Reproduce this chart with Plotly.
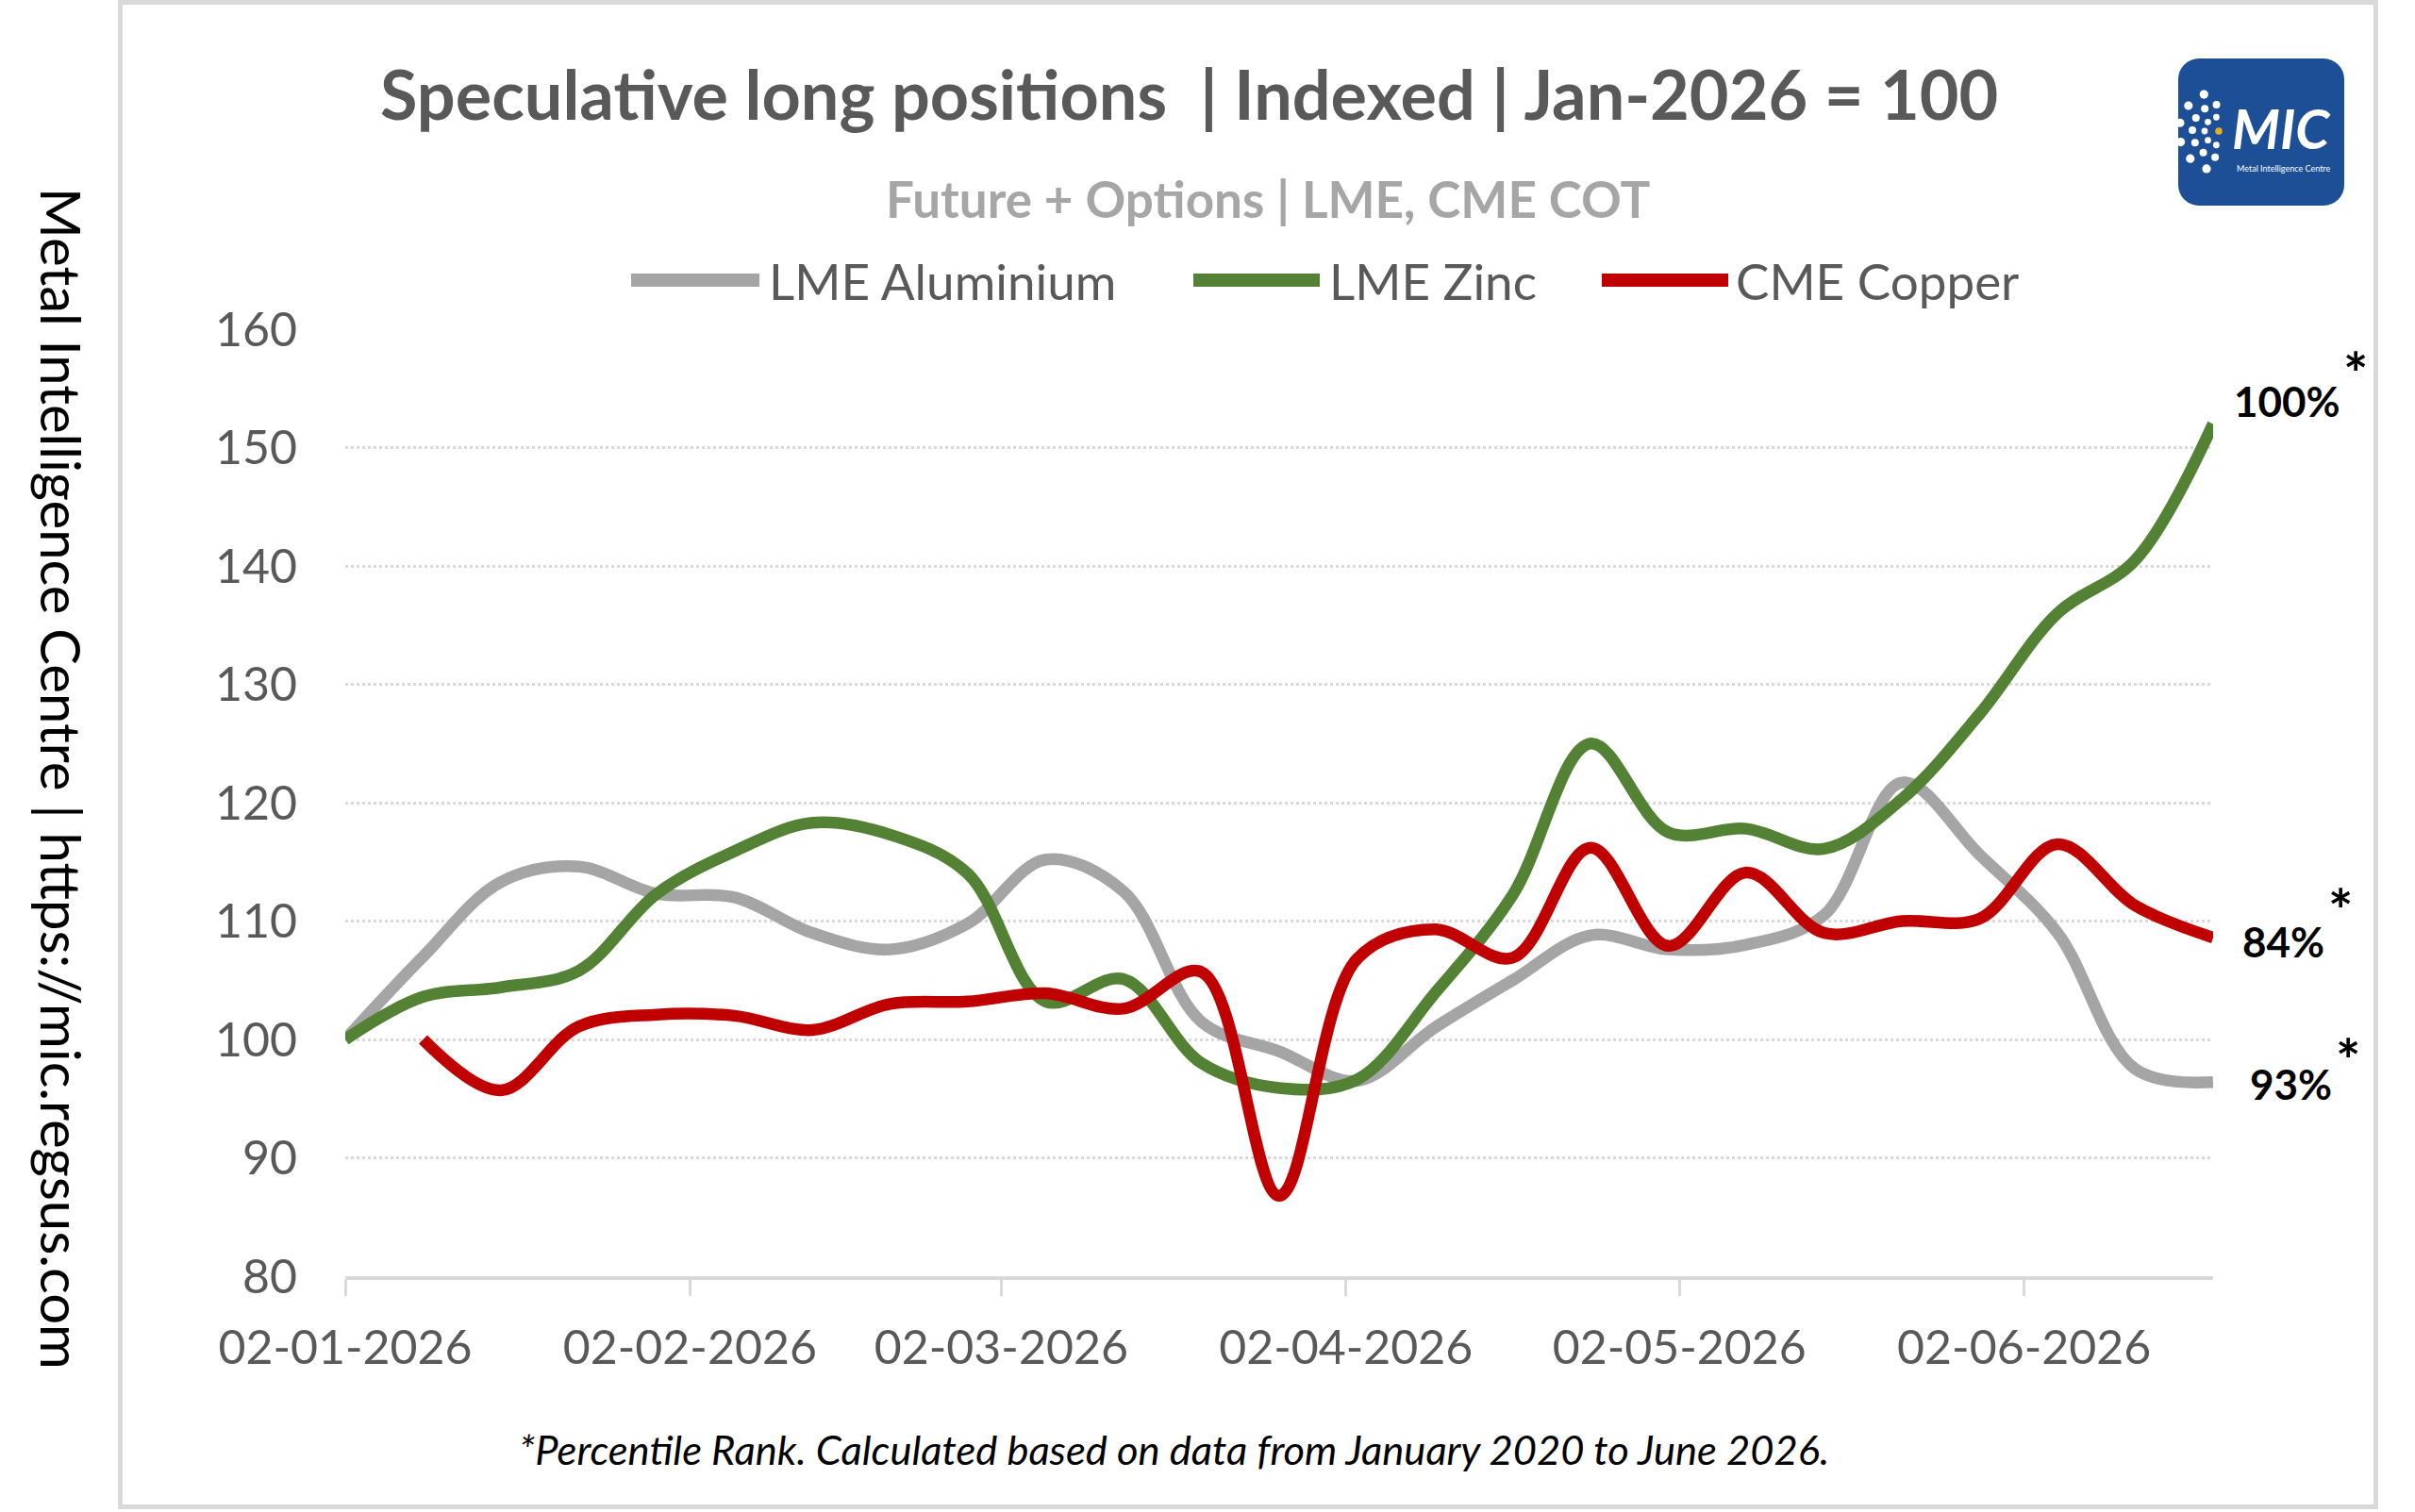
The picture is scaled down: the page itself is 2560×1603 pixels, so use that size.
import math
import plotly.graph_objects as go

# ---------------- data ----------------
dates = ["2026-01-02", "2026-01-09", "2026-01-16", "2026-01-23", "2026-01-30",
         "2026-02-06", "2026-02-13", "2026-02-20", "2026-02-27", "2026-03-06",
         "2026-03-13", "2026-03-20", "2026-03-27", "2026-04-03", "2026-04-10",
         "2026-04-17", "2026-04-24", "2026-05-01", "2026-05-08", "2026-05-15",
         "2026-05-22", "2026-05-29", "2026-06-05", "2026-06-12", "2026-06-19"]

lme_aluminium = [100, 107, 113.3, 114.6, 112.3, 112, 109, 107.6, 109.8, 115.2,
                 112.5, 101.5, 99, 96.5, 101, 105, 108.8, 107.6, 108, 110.5,
                 121.7, 115.6, 109, 97.5, 96.4]

lme_zinc = [100, 103.6, 104.4, 105.8, 112.3, 115.9, 118.3, 117.3, 114, 103.2,
            105.1, 98, 95.9, 96.6, 103.9, 112.2, 125, 117.5, 117.8, 116.1,
            120.3, 127.5, 136, 140.5, 152]

cme_copper = [None, 100, 95.7, 101.1, 102.1, 102, 100.8, 103, 103.2, 103.9,
              102.6, 105.7, 86.8, 106.8, 109.3, 106.9, 116.2, 107.9, 114.1, 109,
              110, 110.2, 116.5, 111.3, 108.6]

series_names = ["LME Aluminium", "LME Zinc", "CME Copper"]
series_colors = ["#A5A5A5", "#548235", "#C00000"]
percentile_labels = ["93%", "100%", "84%"]

tick_dates = ["2026-01-02", "2026-02-02", "2026-03-02", "2026-04-02",
              "2026-05-02", "2026-06-02"]
y_ticks = [80, 90, 100, 110, 120, 130, 140, 150, 160]

# ---------------- layout geometry (pixels) ----------------
W, H = 2560, 1603
L, R, T, B = 366, 214, 349, 250
PW, PH = W - L - R, H - T - B


def px(x):
    return (x - L) / PW


def py(y):
    return (H - B - y) / PH


FONT = "Lato, 'Open Sans', sans-serif"
GREY_TXT = "#595959"

fig = go.Figure()
all_series = [lme_aluminium, lme_zinc, cme_copper]
for name, vals, col in zip(series_names, all_series, series_colors):
    fig.add_trace(go.Scatter(
        x=dates, y=vals, name=name, mode="lines",
        line=dict(color=col, width=12.5, shape="spline", smoothing=1.0),
        connectgaps=False, cliponaxis=False, showlegend=False,
        hoverinfo="x+y+name",
    ))

shapes = []
annotations = []

# outer frame
shapes.append(dict(type="rect", xref="paper", yref="paper",
                   x0=px(127.5), x1=px(2518.5), y0=py(1597.5), y1=py(2.5),
                   line=dict(color="#D9D9D9", width=5), layer="below"))

# title / subtitle
annotations.append(dict(text="<b>Speculative long positions\u00a0 | Indexed | Jan-2026 = 100</b>",
                        xref="paper", yref="paper", x=px(1260), y=py(99),
                        xanchor="center", yanchor="middle", showarrow=False,
                        font=dict(family=FONT, size=72, color=GREY_TXT)))
annotations.append(dict(text="<b>Future + Options | LME, CME COT</b>",
                        xref="paper", yref="paper", x=px(1344), y=py(211),
                        xanchor="center", yanchor="middle", showarrow=False,
                        font=dict(family=FONT, size=53, color="#A6A6A6")))

# manual legend
leg_y = py(297)
leg_items = [(669, 805, 813), (1265, 1399, 1407), (1698, 1832, 1838)]
for (x0, x1, xt), name, col in zip(leg_items, series_names, series_colors):
    shapes.append(dict(type="line", xref="paper", yref="paper",
                       x0=px(x0), x1=px(x1), y0=leg_y, y1=leg_y,
                       line=dict(color=col, width=14)))
    annotations.append(dict(text=name, xref="paper", yref="paper",
                            x=px(xt), y=leg_y, xanchor="left", yanchor="middle",
                            showarrow=False,
                            font=dict(family=FONT, size=53, color=GREY_TXT)))

# percentile labels at the end of each series, each with a raised asterisk
# (label xshift, label yshift, approx label width px, asterisk yshift)
label_pos = {"LME Aluminium": (38, -1.5, 89, 24),
             "LME Zinc": (21, 24, 114, 54),
             "CME Copper": (30, -4, 89, 30)}
for name, vals, lab in zip(series_names, all_series, percentile_labels):
    xs, ys, wd, ays = label_pos[name]
    annotations.append(dict(
        text="<b>" + lab + "</b>",
        xref="x", yref="y", x=dates[-1], y=vals[-1],
        xanchor="left", yanchor="middle", xshift=xs, yshift=ys,
        showarrow=False, borderpad=0,
        font=dict(family=FONT, size=44, color="#000000")))
    annotations.append(dict(
        text="<b>*</b>",
        xref="x", yref="y", x=dates[-1], y=vals[-1],
        xanchor="left", yanchor="middle", xshift=xs + wd + 2, yshift=ays,
        showarrow=False, borderpad=0,
        font=dict(family=FONT, size=62, color="#000000")))

# footnote
annotations.append(dict(text="<i>*Percentile Rank. Calculated based on data from January 2020 to June 2026.</i>",
                        xref="paper", yref="paper", x=px(1244), y=py(1536),
                        xanchor="center", yanchor="middle", showarrow=False,
                        font=dict(family=FONT, size=43.5, color="#000000")))

# vertical source text
annotations.append(dict(text="Metal Intelligence Centre | https://mic.regsus.com",
                        xref="paper", yref="paper", x=px(66), y=py(825),
                        xanchor="center", yanchor="middle", textangle=90,
                        showarrow=False,
                        font=dict(family=FONT, size=58, color="#000000")))

# logo: rounded rectangle
lx0, ly0, lx1, ly1, rad = 2309, 62, 2485, 218, 22
pts = []
corners = [(lx1 - rad, ly0 + rad, -90, 0), (lx1 - rad, ly1 - rad, 0, 90),
           (lx0 + rad, ly1 - rad, 90, 180), (lx0 + rad, ly0 + rad, 180, 270)]
for cx, cy, a0, a1 in corners:
    for i in range(9):
        a = math.radians(a0 + (a1 - a0) * i / 8)
        pts.append((cx + rad * math.cos(a), cy + rad * math.sin(a)))
path = "M " + " L ".join(f"{px(x):.5f},{py(y):.5f}" for x, y in pts) + " Z"
shapes.append(dict(type="path", xref="paper", yref="paper", path=path,
                   fillcolor="#1D4F97", line=dict(width=0)))

# logo dots (decoration)
cx, cy = 2352, 139
dots = []
for r, angs, s in [(15, [100, 140, 180, 220, 260], 3.4),
                   (28, [95, 122, 150, 178, 206, 234, 262], 4.0),
                   (42, [112, 140, 168, 196, 224, 252], 4.6)]:
    for a in angs:
        ar = math.radians(a)
        dots.append((cx + r * math.cos(ar), cy - r * math.sin(ar), s, "#FFFFFF"))
dots.append((cx, cy, 3.8, "#E3B11F"))
for x, y, s, c in dots:
    shapes.append(dict(type="circle", xref="paper", yref="paper",
                       x0=px(x - s), x1=px(x + s), y0=py(y + s), y1=py(y - s),
                       fillcolor=c, line=dict(width=0)))

annotations.append(dict(text="<b><i>MIC</i></b>", xref="paper", yref="paper",
                        x=px(2418), y=py(136), xanchor="center", yanchor="middle",
                        showarrow=False, borderpad=0,
                        font=dict(family=FONT, size=58, color="#FFFFFF")))
annotations.append(dict(text="Metal Intelligence Centre", xref="paper", yref="paper",
                        x=px(2420), y=py(179), xanchor="center", yanchor="middle",
                        showarrow=False, borderpad=0,
                        font=dict(family=FONT, size=9, color="#FFFFFF")))

fig.update_layout(
    width=W, height=H,
    margin=dict(l=L, r=R, t=T, b=B, pad=0),
    paper_bgcolor="#FFFFFF", plot_bgcolor="#FFFFFF",
    font=dict(family=FONT, color=GREY_TXT),
    shapes=shapes, annotations=annotations, showlegend=False,
    xaxis=dict(type="date", range=[dates[0], dates[-1]],
               tickvals=tick_dates, tickformat="%d-%m-%Y",
               tickfont=dict(family=FONT, size=50, color=GREY_TXT),
               showgrid=False, zeroline=False,
               showline=True, linecolor="#D9D9D9", linewidth=4,
               ticks="outside", ticklen=17, tickwidth=3, tickcolor="#D9D9D9",
               ticklabelstandoff=12),
    yaxis=dict(range=[80, 160], tickvals=y_ticks,
               tickfont=dict(family=FONT, size=50, color=GREY_TXT),
               showgrid=True, gridcolor="#D9D9D9", gridwidth=3, griddash="dot",
               zeroline=False, showline=False, ticks="",
               ticklabelstandoff=50),
)

fig.write_html("out.html")
